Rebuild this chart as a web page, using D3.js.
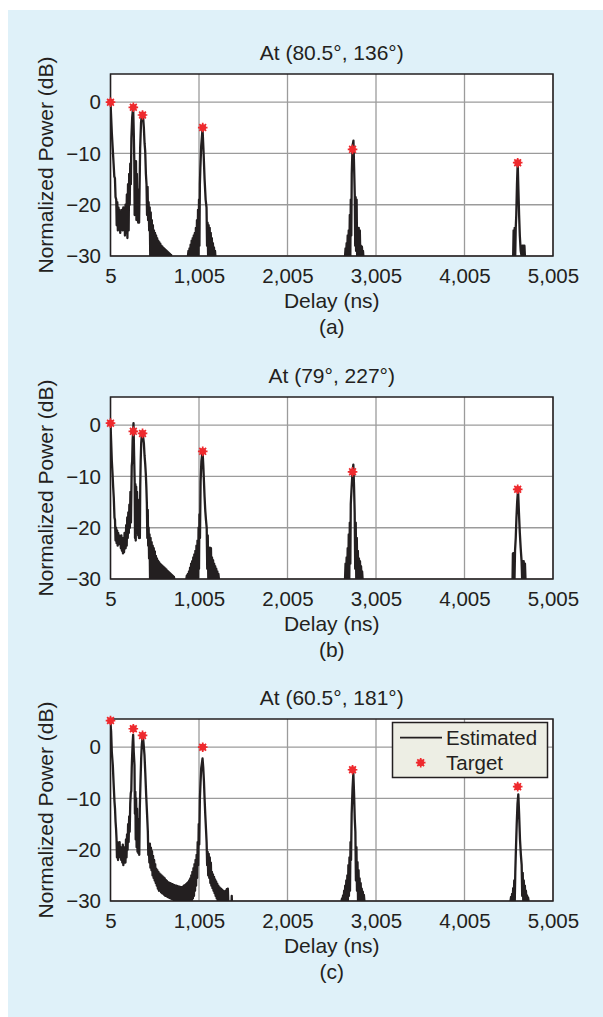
<!DOCTYPE html>
<html>
<head>
<meta charset="utf-8">
<script src="https://cdn.jsdelivr.net/npm/d3@7"></script>
<style>
  body { margin: 0; background: #fff; }
  text { font-family: "Liberation Sans", Arial, sans-serif; fill: #231f20; }
</style>
</head>
<body>
<svg id="chart" width="603" height="1017"></svg>
<script>
// titles / panel letters
const titles = ['At (80.5°, 136°)', 'At (79°, 227°)', 'At (60.5°, 181°)'];
const letters = ['(a)', '(b)', '(c)'];
const xTicks = [5, 1005, 2005, 3005, 4005, 5005];
const yTicks = [0, -10, -20, -30];

// estimated delay profile, [delay ns, power dB]
const estA = [[5,0],[20,-6],[30,-9],[40,-12],[48,-14.5],[55,-14.8],[62,-18.5],[70,-19],[75,-24],[82,-19.5],[88,-25],[95,-20.5],[100,-24.5],[108,-21],[115,-25.5],[122,-22.5],[128,-24],[135,-21],[142,-25],[150,-20.5],[156,-24.5],[162,-20.5],[168,-26],[175,-20],[182,-25.5],[190,-18],[196,-26.5],[203,-16],[210,-25],[216,-14],[222,-20],[228,-12],[235,-16],[241,-7],[250,-3],[261,-0.8],
  [268,-6],[274,-11.5],[278,-22],[283,-12],[288,-21.5],[293,-11.5],[298,-23],[303,-14],[308,-22.5],[313,-17],[318,-23.5],[323,-20],[328,-23.5],[334,-16],[340,-9],[350,-4],[358,-2.6],[367,-2.3],
  [374,-3],[382,-5],[390,-8],[397,-9.5],[405,-14],[412,-16],[418,-22],[424,-16.5],[430,-23],[436,-19.5],[442,-25],[448,-20.5],[454,-30],[460,-21.5],[466,-30],[472,-23],[478,-30],[484,-24],[490,-30],[496,-25],[502,-30],[508,-25.5],[514,-30],[520,-26],[526,-30],[532,-26.5],[538,-30],[544,-27],[550,-30],[556,-27.3],[562,-30],[568,-27.6],[574,-30],[580,-28],[586,-30],[592,-28.2],[598,-30],[604,-28.4],[610,-30],[616,-28.6],[622,-30],[628,-28.8],[634,-30],[640,-29],[646,-30],[652,-29.2],[658,-30],[664,-29.4],[670,-30],[676,-29.6],[682,-30],[690,-29.8],[700,-31],[710,-32],
  [870,-32],[880,-30],[886,-29],[892,-30],[898,-28.5],[904,-30],[910,-27.8],[916,-30],[922,-27],[928,-30],[934,-26.5],[940,-30],[946,-26],[952,-30],[958,-25.5],[964,-30],[970,-24.5],[976,-30],[982,-23],[988,-30],[994,-21],[1000,-30],[1005,-19],[1010,-28],[1015,-16],[1020,-13],[1030,-8.5],[1045,-5.2],[1057,-9.9],[1068,-15],[1080,-19],[1090,-20.5],[1096,-28],[1102,-23.5],[1108,-30],[1114,-24],[1120,-30],[1126,-24.5],[1132,-30],[1138,-25.5],[1144,-30],[1150,-26.5],[1156,-30],[1162,-27.5],[1168,-30],[1174,-28.3],[1180,-30],[1186,-29],[1192,-30.5],[1200,-32],
  [2640,-32],[2655,-30],[2661,-28.5],[2667,-30],[2673,-27.5],[2679,-30],[2685,-26],[2691,-30],[2697,-25],[2703,-30],[2709,-22],[2715,-30],[2720,-19],[2726,-26],[2731,-14],[2740,-8.5],[2750,-7.5],[2758,-13],[2765,-18],[2770,-28],[2775,-18.5],[2780,-29],[2786,-19],[2792,-30],[2798,-24.5],[2804,-30],[2810,-24.5],[2816,-30],[2822,-25],[2828,-30],[2834,-28],[2840,-30],[2846,-28.2],[2852,-30],[2858,-29],[2864,-30.5],[2870,-32],
  [4540,-32],[4555,-30],[4560,-25],[4566,-30],[4572,-24.5],[4578,-30],[4584,-24.5],[4590,-22],[4598,-16],[4606,-11.8],[4614,-17],[4622,-22],[4630,-26],[4640,-29],[4650,-30],[4658,-28],[4664,-30],[4670,-28],[4676,-30],[4682,-28],[4689,-30.5],[4700,-32],[5005,-32]];

const estB = [[5,0.4],[12,-3],[20,-7],[28,-9.5],[35,-12],[42,-14.1],[50,-18],[56,-18.5],[62,-22.5],[68,-20],[74,-23],[80,-20.5],[86,-23.5],[92,-21],[98,-23.2],[104,-21.5],[110,-23],[116,-22],[122,-24],[128,-21.5],[134,-24.5],[140,-23],[146,-25],[152,-22],[158,-24.8],[164,-21],[171,-21],[176,-24],[182,-19.5],[188,-23.5],[194,-18],[200,-22],[206,-17],[212,-21],[218,-15.5],[224,-20],[230,-13],[236,-19],[241,-12.8],[245,-8],[250,-7],[255,-3],[265,0.4],
  [272,-6],[278,-11],[282,-22],[286,-11.5],[290,-22.5],[295,-12],[300,-21],[305,-13],[310,-19],[314,-14.5],[318,-21.5],[322,-16],[327,-22],[332,-17],[337,-22],[341,-12],[346,-7],[352,-3.5],[360,-1.5],[367,-1.4],
  [375,-2.5],[382,-3.5],[390,-6],[397,-7.5],[404,-9.5],[410,-12],[416,-15.4],[421,-22],[426,-16.5],[431,-23.5],[436,-20],[441,-26],[446,-21.3],[452,-30],[458,-22],[464,-30],[470,-22.8],[476,-30],[482,-23.5],[488,-30],[494,-24],[500,-30],[506,-24.6],[512,-30],[518,-25.5],[524,-30],[530,-26],[536,-30],[542,-26.4],[548,-30],[554,-26.7],[560,-30],[566,-27],[572,-30],[578,-27.2],[584,-30],[590,-27.4],[596,-30],[602,-27.6],[608,-30],[614,-27.8],[620,-30],[626,-28],[632,-30],[638,-28.2],[644,-30],[650,-28.4],[656,-30],[662,-28.6],[668,-30],[674,-28.8],[680,-30],[686,-29],[692,-30],[698,-29.2],[704,-30],[710,-29.4],[716,-30],[722,-29.6],[730,-30.5],[740,-32],
  [855,-32],[862,-30],[868,-29.3],[874,-30],[880,-29],[886,-30],[892,-28.5],[898,-30],[904,-27.8],[910,-30],[916,-27],[922,-30],[928,-26.5],[934,-30],[940,-25.8],[946,-30],[952,-25.2],[958,-30],[964,-24.5],[970,-30],[976,-23.5],[982,-30],[988,-22.5],[994,-30],[1000,-20],[1005,-28],[1010,-17.4],[1016,-22],[1023,-11],[1032,-7],[1045,-5],
  [1054,-8],[1061,-11],[1068,-14],[1076,-16.7],[1084,-18.5],[1092,-20],[1098,-28],[1104,-21.5],[1110,-30],[1116,-23.9],[1122,-30],[1128,-23.9],[1134,-30],[1140,-24],[1146,-30],[1152,-25.8],[1158,-30],[1164,-26.3],[1170,-30],[1176,-27],[1182,-30],[1188,-27.5],[1194,-30],[1200,-28],[1206,-30],[1212,-28.5],[1218,-30],[1224,-29],[1230,-30],[1238,-30.5],[1250,-32],
  [2640,-32],[2655,-30],[2661,-27],[2667,-30],[2673,-25.8],[2679,-30],[2685,-24],[2691,-30],[2697,-21.3],[2703,-30],[2709,-19],[2715,-27],[2720,-15.4],[2730,-12],[2740,-9],[2749,-7.7],[2757,-12],[2764,-17],[2770,-28],[2776,-19],[2782,-30],[2788,-22],[2794,-30],[2800,-24.5],[2806,-30],[2812,-26],[2818,-30],[2824,-26.5],[2830,-30],[2836,-27.5],[2842,-30],[2848,-28.5],[2855,-30.5],[2865,-32],
  [4530,-32],[4548,-30],[4552,-25],[4558,-30],[4564,-24.9],[4570,-30],[4576,-24.5],[4584,-22],[4592,-18],[4600,-15],[4610,-12.5],[4620,-17],[4630,-21],[4640,-24],[4650,-26.5],[4656,-30],[4662,-26.5],[4668,-30],[4674,-26.5],[4680,-30],[4688,-27],[4695,-30.5],[4705,-32],[5005,-32]];

const estC = [[5,4.6],[12,3.1],[20,-1],[31,-3.5],[40,-7],[50,-10.6],[56,-12],[62,-14.5],[68,-16],[73,-17.8],[78,-21.5],[84,-18.5],[90,-22],[96,-19],[102,-21],[108,-18.5],[114,-21.5],[120,-19.5],[126,-22],[132,-19.5],[138,-22.5],[144,-19],[150,-23],[156,-20],[162,-22.5],[168,-19.5],[174,-22.5],[180,-18],[186,-21.5],[192,-17],[198,-20],[204,-15],[210,-18.5],[216,-13.5],[222,-16.5],[228,-11],[234,-9],[240,-8.5],[245,-4],[250,-1.5],[256,1],[261,2.4],
  [268,-1],[276,-3.5],[281,-13],[286,-8.7],[290,-18],[295,-10],[300,-19.5],[305,-12],[310,-20.4],[315,-14],[320,-20.7],[325,-16],[330,-21],[336,-12],[344,-6.7],[352,-2],[359,0.5],[367,1.8],
  [375,1.5],[382,0],[389,-1.5],[398,-5],[408,-9.3],[418,-13],[427,-16.5],[432,-21],[438,-19.1],[444,-22.5],[450,-18.8],[456,-23.5],[462,-19.6],[468,-24],[474,-20.3],[480,-25],[486,-21.2],[492,-25.5],[498,-22],[504,-26],[510,-22.8],[516,-26.5],[522,-23.7],[528,-27],[534,-24],[540,-27.6],[546,-24.3],[552,-28],[558,-24.6],[564,-28],[570,-24.8],[576,-28.3],[582,-25],[588,-28.5],[594,-25.2],[600,-28.6],[606,-25.4],[612,-28.8],[618,-25.6],[624,-29],[630,-25.9],[636,-29],[642,-26.1],[648,-29.2],[654,-26.3],[660,-29.3],[666,-26.4],[672,-29.4],[678,-26.5],[684,-29.5],[690,-26.6],[696,-29.6],[702,-26.7],[708,-29.7],[714,-26.8],[720,-29.8],[726,-26.9],[732,-29.9],[738,-27],[744,-30],[750,-27],[756,-30],[762,-27.1],[768,-30],[774,-27.2],[780,-30],[786,-27.2],[792,-30],[798,-27.3],[804,-30],[810,-27.3],[816,-30],[822,-27.2],[828,-30],[834,-27],[840,-30],[846,-26.9],[852,-30],[858,-26.7],[864,-30],[870,-26.5],[876,-30],[882,-26.3],[888,-30],[894,-26],[900,-30],[906,-25.6],[912,-30],[918,-25],[924,-29.8],[930,-24.3],[936,-29.5],[942,-23.6],[948,-29],[954,-22.8],[960,-28],[966,-22],[972,-27],[978,-21],[984,-25.5],[990,-18.5],[996,-23],[1002,-15],[1008,-19],[1015,-10],[1022,-7],[1030,-4.1],[1045,-2.2],
  [1053,-4],[1061,-6.7],[1068,-10],[1076,-13.2],[1084,-16],[1091,-18.5],[1097,-23],[1103,-20.4],[1109,-25],[1115,-20.8],[1121,-25.5],[1127,-21.5],[1133,-26.5],[1139,-22.5],[1145,-27],[1151,-24.3],[1157,-27.5],[1163,-24.8],[1169,-28],[1175,-25.3],[1181,-28.5],[1187,-25.8],[1193,-29],[1199,-26.2],[1205,-29.5],[1211,-26.6],[1217,-30],[1223,-27],[1229,-30],[1235,-27.3],[1241,-30],[1247,-27.5],[1253,-30],[1259,-27.7],[1265,-30],[1271,-27.9],[1277,-30],[1283,-28.1],[1289,-30],[1295,-28.2],[1301,-30],[1307,-28],[1313,-30],[1319,-27.7],[1325,-30],[1331,-27.6],[1337,-30.5],[1345,-32],[1370,-32],[1375,-29],[1380,-32],
  [2600,-32],[2615,-30],[2621,-29.5],[2627,-30],[2633,-28.9],[2639,-30],[2645,-28],[2651,-30],[2657,-27],[2663,-30],[2669,-26],[2675,-30],[2681,-25],[2687,-30],[2693,-23],[2699,-29],[2705,-21.5],[2711,-28],[2717,-18.5],[2723,-22],[2730,-13],[2740,-8],[2749,-5.1],[2757,-9],[2765,-14],[2772,-16.5],[2778,-26],[2784,-19.5],[2790,-28],[2796,-22.4],[2802,-30],[2808,-24],[2814,-30],[2820,-25.6],[2826,-30],[2832,-26.5],[2838,-30],[2844,-27.6],[2850,-30],[2856,-28.2],[2862,-30],[2868,-28.8],[2874,-30],[2881,-30.5],[2890,-32],
  [4510,-32],[4525,-30],[4531,-29.2],[4537,-30],[4543,-28.6],[4549,-30],[4555,-27.5],[4561,-30],[4567,-26],[4573,-30],[4579,-24.3],[4586,-20],[4595,-15],[4604,-11],[4613,-9.2],[4622,-13],[4632,-18],[4642,-21],[4651,-23],[4657,-29],[4663,-24.5],[4669,-30],[4675,-26],[4681,-30],[4687,-27],[4693,-30],[4699,-28],[4705,-30],[4711,-28.9],[4717,-30],[4723,-29.3],[4729,-30],[4738,-30.5],[4748,-32],[5005,-32]];

// target (true) path delays and powers
const targetDelay = [5, 263, 367, 1047, 2740, 4606];
const targetA = [0, -1, -2.5, -4.95, -9.2, -11.8];
const targetB = [0.4, -1.2, -1.6, -5.1, -9.1, -12.5];
const targetC = [5.2, 3.6, 2.3, 0, -4.4, -7.7];

const panels = [
  {est: estA, target: targetA},
  {est: estB, target: targetB},
  {est: estC, target: targetC}
];

const svg = d3.select('#chart');

svg.append('rect')
  .attr('x', 8).attr('y', 10)
  .attr('width', 595).attr('height', 1007)
  .attr('fill', '#dff1f9');

const left = 110.5, right = 553, plotH = 182;
const panelTop = [74, 397, 719];
const ink = '#231f20';
const red = '#ee2a2e';

function drawMarker(g, cx, cy) {
  const m = g.append('g').attr('transform', 'translate(' + cx + ',' + cy + ')');
  m.append('circle').attr('r', 3.4).attr('fill', red);
  m.append('path')
    .attr('d', 'M-4.8,0H4.8M0,-4.8V4.8M-3.4,-3.4L3.4,3.4M-3.4,3.4L3.4,-3.4')
    .attr('stroke', red).attr('stroke-width', 1.7);
}

panels.forEach((p, i) => {
  const top = panelTop[i];
  const x = d3.scaleLinear().domain([5, 5005]).range([left, right]);
  const y = d3.scaleLinear().domain([-30, 5.5]).range([top + plotH, top]);
  const g = svg.append('g');

  g.append('rect')
    .attr('x', left).attr('y', top)
    .attr('width', right - left).attr('height', plotH)
    .attr('fill', '#fff');

  /* grid */
  g.append('g').selectAll('line')
    .data(xTicks).enter().append('line')
    .attr('x1', d => x(d)).attr('x2', d => x(d))
    .attr('y1', top).attr('y2', top + plotH)
    .attr('stroke', '#9b9b9b').attr('stroke-width', 1.3);
  g.append('g').selectAll('line')
    .data(yTicks).enter().append('line')
    .attr('x1', left).attr('x2', right)
    .attr('y1', d => y(d)).attr('y2', d => y(d))
    .attr('stroke', '#9b9b9b').attr('stroke-width', 1.3);

  /* estimated profile, clipped to the plot box */
  const clipId = 'clip' + i;
  svg.append('clipPath').attr('id', clipId)
    .append('rect')
    .attr('x', left).attr('y', top)
    .attr('width', right - left).attr('height', plotH);

  const line = d3.line()
    .x(d => x(d[0]))
    .y(d => y(d[1]));

  g.append('path')
    .datum(p.est)
    .attr('clip-path', 'url(#' + clipId + ')')
    .attr('fill', 'none')
    .attr('stroke', ink)
    .attr('stroke-width', 2.3)
    .attr('stroke-linejoin', 'round')
    .attr('d', line);

  g.append('rect')
    .attr('x', left).attr('y', top)
    .attr('width', right - left).attr('height', plotH)
    .attr('fill', 'none').attr('stroke', ink).attr('stroke-width', 1.5);

  /* targets */
  targetDelay.forEach((t, j) => drawMarker(g, x(t), y(p.target[j])));

  /* axes */
  const xAxis = g.append('g')
    .attr('transform', 'translate(0,' + (top + plotH) + ')')
    .call(d3.axisBottom(x).tickValues(xTicks).tickSize(0).tickPadding(12).tickFormat(d3.format(',')));
  const yAxis = g.append('g')
    .attr('transform', 'translate(' + left + ',0)')
    .call(d3.axisLeft(y).tickValues(yTicks).tickSize(0).tickPadding(9.5)
      .tickFormat(d => d < 0 ? '\u2212' + Math.abs(d) : d));
  [xAxis, yAxis].forEach(a => {
    a.select('.domain').remove();
    a.selectAll('text').attr('font-size', 20.5)
      .style('font-family', '"Liberation Sans", Arial, sans-serif').attr('fill', ink);
  });

  g.append('text')
    .attr('x', (left + right) / 2).attr('y', top - 14)
    .attr('text-anchor', 'middle').attr('font-size', 21)
    .text(titles[i]);

  g.append('text')
    .attr('x', (left + right) / 2).attr('y', top + plotH + 52)
    .attr('text-anchor', 'middle').attr('font-size', 21)
    .text('Delay (ns)');

  g.append('text')
    .attr('x', (left + right) / 2).attr('y', top + plotH + 78)
    .attr('text-anchor', 'middle').attr('font-size', 21)
    .text(letters[i]);

  g.append('text')
    .attr('transform', 'translate(53,' + (top + plotH / 2) + ') rotate(-90)')
    .attr('text-anchor', 'middle').attr('font-size', 21)
    .text('Normalized Power (dB)');

  /* legend, last panel only */
  if (i === 2) {
    const lg = g.append('g');
    lg.append('rect')
      .attr('x', 392.5).attr('y', 722.5)
      .attr('width', 155).attr('height', 55)
      .attr('fill', '#edeee4').attr('stroke', ink).attr('stroke-width', 1.5);
    lg.append('line')
      .attr('x1', 400).attr('x2', 442)
      .attr('y1', 737.7).attr('y2', 737.7)
      .attr('stroke', ink).attr('stroke-width', 1.8);
    lg.append('text').attr('x', 446).attr('y', 745).attr('font-size', 20.5).text('Estimated');
    drawMarker(lg, 420.7, 762.7);
    lg.append('text').attr('x', 446).attr('y', 770).attr('font-size', 20.5).text('Target');
  }
});
</script>
</body>
</html>
